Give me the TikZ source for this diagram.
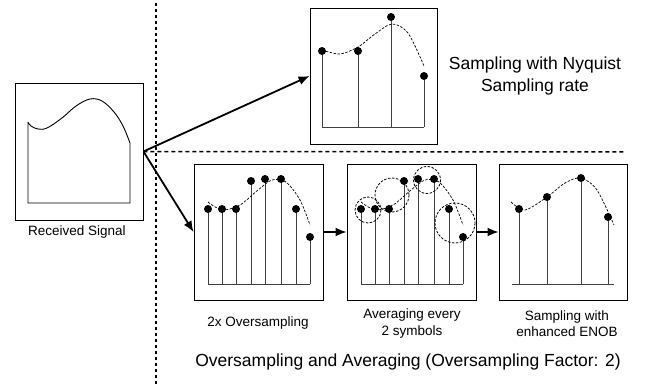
\documentclass[tikz,border=0pt]{standalone}
\usepackage{fontspec}
\setmainfont{Liberation Sans}
\usetikzlibrary{arrows.meta}

\begin{document}
\begin{tikzpicture}[x=1pt,y=-1pt,
    frame/.style={draw,line width=0.9pt,inner sep=0pt},
    stem/.style={black!75,line width=0.9pt},
    smp/.style={fill=black},
    fit curve/.style={dashed,dash pattern=on 2.5pt off 1.5pt,line width=0.7pt},
    avg ring/.style={dashed,dash pattern=on 2.5pt off 1.5pt,line width=0.8pt},
    link/.style={line width=1.8pt,-{Latex[length=11pt,width=9pt]}},
    small/.style={font=\fontsize{13.5}{16.5}\selectfont,align=center},
    big/.style={font=\fontsize{17.5}{21.5}\selectfont,align=center}]
\useasboundingbox (0,0) rectangle (645,385);

% boxes
\node [frame,minimum width=128pt,minimum height=137pt] (rx) at (79,151.5) {};
\node [frame,minimum width=127pt,minimum height=136pt] (nyq) at (373.5,76) {};
\node [frame,minimum width=129pt,minimum height=136pt] (ovs) at (258.5,232) {};
\node [frame,minimum width=129pt,minimum height=136pt] (avg) at (411.5,232) {};
\node [frame,minimum width=128pt,minimum height=136pt] (enob) at (563,232) {};
\coordinate (cut) at (625,152);

% dividers
\draw [line width=2pt,dash pattern=on 3pt off 3pt] (156,3) -- (156,385);
\draw [line width=1.5pt,dash pattern=on 4pt off 3pt] (rx.east) -- (cut);

% received signal
\draw [line width=0.9pt] (28,122) -- (28,203) -- (130,203) -- (130,143)
      plot [smooth,tension=0.6] coordinates {(130,143) (123,126) (114,112) (102,101) (90,99) (76,106) (62,118) (47,128) (38,129) (31,126) (28,122)};

% nyquist sampling
\draw [stem] (322,127) -- (424,127);
\foreach \x/\y in {322/51,358/51,391/17,424/76} {
  \draw [stem] (\x,127) -- (\x,\y);
  \fill [smp] (\x,\y) circle (4);
}
\draw [fit curve] plot [smooth] coordinates {(322,50) (340,54) (358,47) (375,34) (392,24) (408,33) (424,66)};

% 2x oversampling and averaging
\foreach \dx in {0,153} {
  \begin{scope}[xshift=\dx]
  \draw [stem] (208,284) -- (310,284);
  \foreach \x/\y in {208/209,222/209,236/209,251/181,265/179,281/179,296/209,310/237} {
    \draw [stem] (\x,284) -- (\x,\y);
    \fill [smp] (\x,\y) circle (4);
  }
  \draw [fit curve] plot [smooth] coordinates {(208,202) (222,210) (240,205) (258,190) (272,180) (286,182) (300,200) (310,225)};
  \end{scope}
}
\draw [avg ring] (368,210) circle (13);
\draw [avg ring] (392,195) circle (17);
\draw [avg ring] (427,180) circle (13.5);
\draw [avg ring] (455,223) circle (20);

% enhanced ENOB
\draw [stem] (512,284) -- (614,284);
\foreach \x/\y in {519/209,547/197,581/178,608/217} {
  \draw [stem] (\x,284) -- (\x,\y);
  \fill [smp] (\x,\y) circle (4);
}
\draw [fit curve] plot [smooth] coordinates {(511,202) (525,210) (547,197) (565,183) (581,178) (597,190) (614,225)};

% arrows
\draw [link] (rx.east) -- (nyq.west);
\draw [link] (rx.east) -- (ovs.west);
\draw [link] (ovs.east) -- (avg.west);
\draw [link] (avg.east) -- (enob.west);

% labels
\node [small] (rxlbl) at (77,232) {Received Signal};
\node [big] (nyqlbl) at (535,76) {Sampling with Nyquist\\Sampling rate};
\node [small] (ovslbl) at (258,323) {2x Oversampling};
\node [small] (avglbl) at (412,323.5) {Averaging every\\2 symbols};
\node [small] (enoblbl) at (567,323.5) {Sampling with\\enhanced ENOB};
\node [big] (title) at (408,362) {Oversampling and Averaging (Oversampling Factor: 2)};
\end{tikzpicture}
\end{document}
